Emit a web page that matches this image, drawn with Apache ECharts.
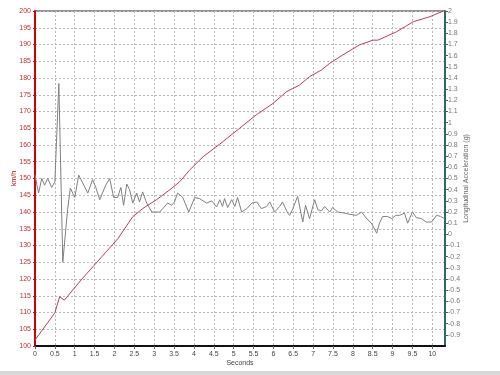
<!DOCTYPE html>
<html><head><meta charset="utf-8">
<script src="https://cdn.jsdelivr.net/npm/echarts@6/dist/echarts.min.js"></script>
<style>html,body{margin:0;padding:0;background:#fff}#c{width:500px;height:375px}</style>
</head><body><div id="c"></div>
<script>
// Speed (km/h) vs time (s)
const speedTime = [0,0.5,0.62,0.74,0.95,1.16,1.46,1.79,2.09,2.46,2.72,3.05,3.39,3.64,3.89,4.23,4.73,5.15,5.57,5.99,6.33,6.66,6.91,7.21,7.42,7.75,8.17,8.51,8.63,9.10,9.52,9.94,10.28];
const speedVals = [101.8,109.9,114.7,113.7,116.7,119.7,123.7,128.1,132.1,138.6,141.1,143.6,146.6,149.0,152.5,156.5,161.0,165.0,169.0,172.4,175.9,177.9,180.4,182.4,184.4,186.9,189.9,191.3,191.3,193.8,196.8,198.3,200];
// Longitudinal acceleration (g) vs time (s)
const accTime = [0,0.09,0.17,0.24,0.32,0.42,0.5,0.6,0.7,0.82,0.89,1.0,1.1,1.2,1.33,1.45,1.53,1.63,1.78,1.88,1.98,2.08,2.16,2.23,2.31,2.38,2.46,2.56,2.63,2.71,2.81,2.94,3.01,3.14,3.34,3.44,3.51,3.59,3.72,3.87,4.02,4.14,4.32,4.45,4.57,4.65,4.72,4.77,4.85,4.95,5.03,5.10,5.20,5.33,5.46,5.58,5.70,5.83,5.91,6.03,6.16,6.23,6.36,6.41,6.49,6.61,6.74,6.81,6.91,7.04,7.12,7.21,7.29,7.42,7.49,7.62,7.79,7.91,8.09,8.22,8.35,8.47,8.60,8.67,8.75,8.87,8.98,9.08,9.18,9.30,9.38,9.50,9.60,9.73,9.85,9.98,10.11,10.21,10.31];
const accVals = [0.53,0.37,0.50,0.44,0.50,0.42,0.47,1.35,-0.25,0.22,0.415,0.33,0.53,0.46,0.37,0.49,0.42,0.31,0.44,0.50,0.33,0.33,0.42,0.26,0.45,0.40,0.28,0.37,0.29,0.38,0.28,0.20,0.20,0.20,0.28,0.26,0.29,0.37,0.33,0.20,0.33,0.32,0.28,0.30,0.245,0.31,0.25,0.32,0.24,0.31,0.25,0.33,0.20,0.23,0.28,0.29,0.23,0.25,0.29,0.20,0.25,0.29,0.19,0.17,0.23,0.34,0.11,0.26,0.14,0.31,0.22,0.21,0.25,0.20,0.24,0.20,0.19,0.18,0.17,0.20,0.14,0.10,0.01,0.10,0.16,0.16,0.14,0.17,0.17,0.19,0.10,0.20,0.15,0.14,0.11,0.11,0.17,0.16,0.14];

const speedData = speedTime.map((t,i)=>[t,speedVals[i]]);
const accData = accTime.map((t,i)=>[t,accVals[i]]);
const font = 'Liberation Sans, Arial, sans-serif';

const chart = echarts.init(document.getElementById('c'), null, {renderer:'canvas'});
chart.setOption({
  animation:false,
  backgroundColor:'#fff',
  graphic:[{type:'rect',left:0,top:371,shape:{width:500,height:4},style:{fill:'#d8d8d8'},silent:true}],
  grid:{left:35,right:55,top:11,bottom:29,show:true,borderColor:'#222',borderWidth:1,
    containLabel:false,outerBoundsMode:'none'},
  xAxis:{type:'value',min:0,max:10.32,interval:0.5,
    name:'Seconds',nameLocation:'middle',nameGap:14,nameMoveOverlap:false,
    nameTextStyle:{fontSize:7,color:'#444',fontFamily:font},
    axisLine:{show:true,onZero:false,lineStyle:{color:'#111',width:2}},
    axisTick:{show:true,length:3,lineStyle:{color:'#666'}},
    axisLabel:{fontSize:7,color:'#444',fontFamily:font,margin:5,showMaxLabel:false},
    splitLine:{show:true,lineStyle:{color:'#b8b8b8',type:[2,2],width:1}}},
  yAxis:[{type:'value',min:100,max:200,interval:5,position:'left',
    name:'km/h',nameLocation:'middle',nameGap:17,nameMoveOverlap:false,
    nameTextStyle:{fontSize:7,color:'#c00000',fontFamily:font},
    axisLine:{show:true,onZero:false,lineStyle:{color:'#cc0000',width:2}},
    axisTick:{show:true,length:2,lineStyle:{color:'#cc0000'}},
    axisLabel:{fontSize:7,color:'#c03030',fontFamily:font,margin:4},
    splitLine:{show:true,lineStyle:{color:'#b8b8b8',type:[2,2],width:1}}},
   {type:'value',min:-1,max:2,interval:0.1,position:'right',
    name:'Longitudinal Acceleration (g)',nameLocation:'middle',nameGap:18,nameRotate:90,nameMoveOverlap:false,
    nameTextStyle:{fontSize:7,color:'#666',fontFamily:font},
    axisLine:{show:true,onZero:false,lineStyle:{color:'#2f6a5c',width:2}},
    axisTick:{show:true,length:3,lineStyle:{color:'#2f6a5c'}},
    axisLabel:{fontSize:7,color:'#777',fontFamily:font,margin:3,showMinLabel:false,
      formatter:v=>String(+v.toFixed(1))},
    splitLine:{show:false}}],
  series:[
    {type:'line',yAxisIndex:1,data:accData,showSymbol:false,lineStyle:{color:'#808080',width:1},z:2},
    {type:'line',yAxisIndex:0,data:speedData,showSymbol:false,lineStyle:{color:'#b8405a',width:1},z:3}
  ]
});
</script></body></html>
